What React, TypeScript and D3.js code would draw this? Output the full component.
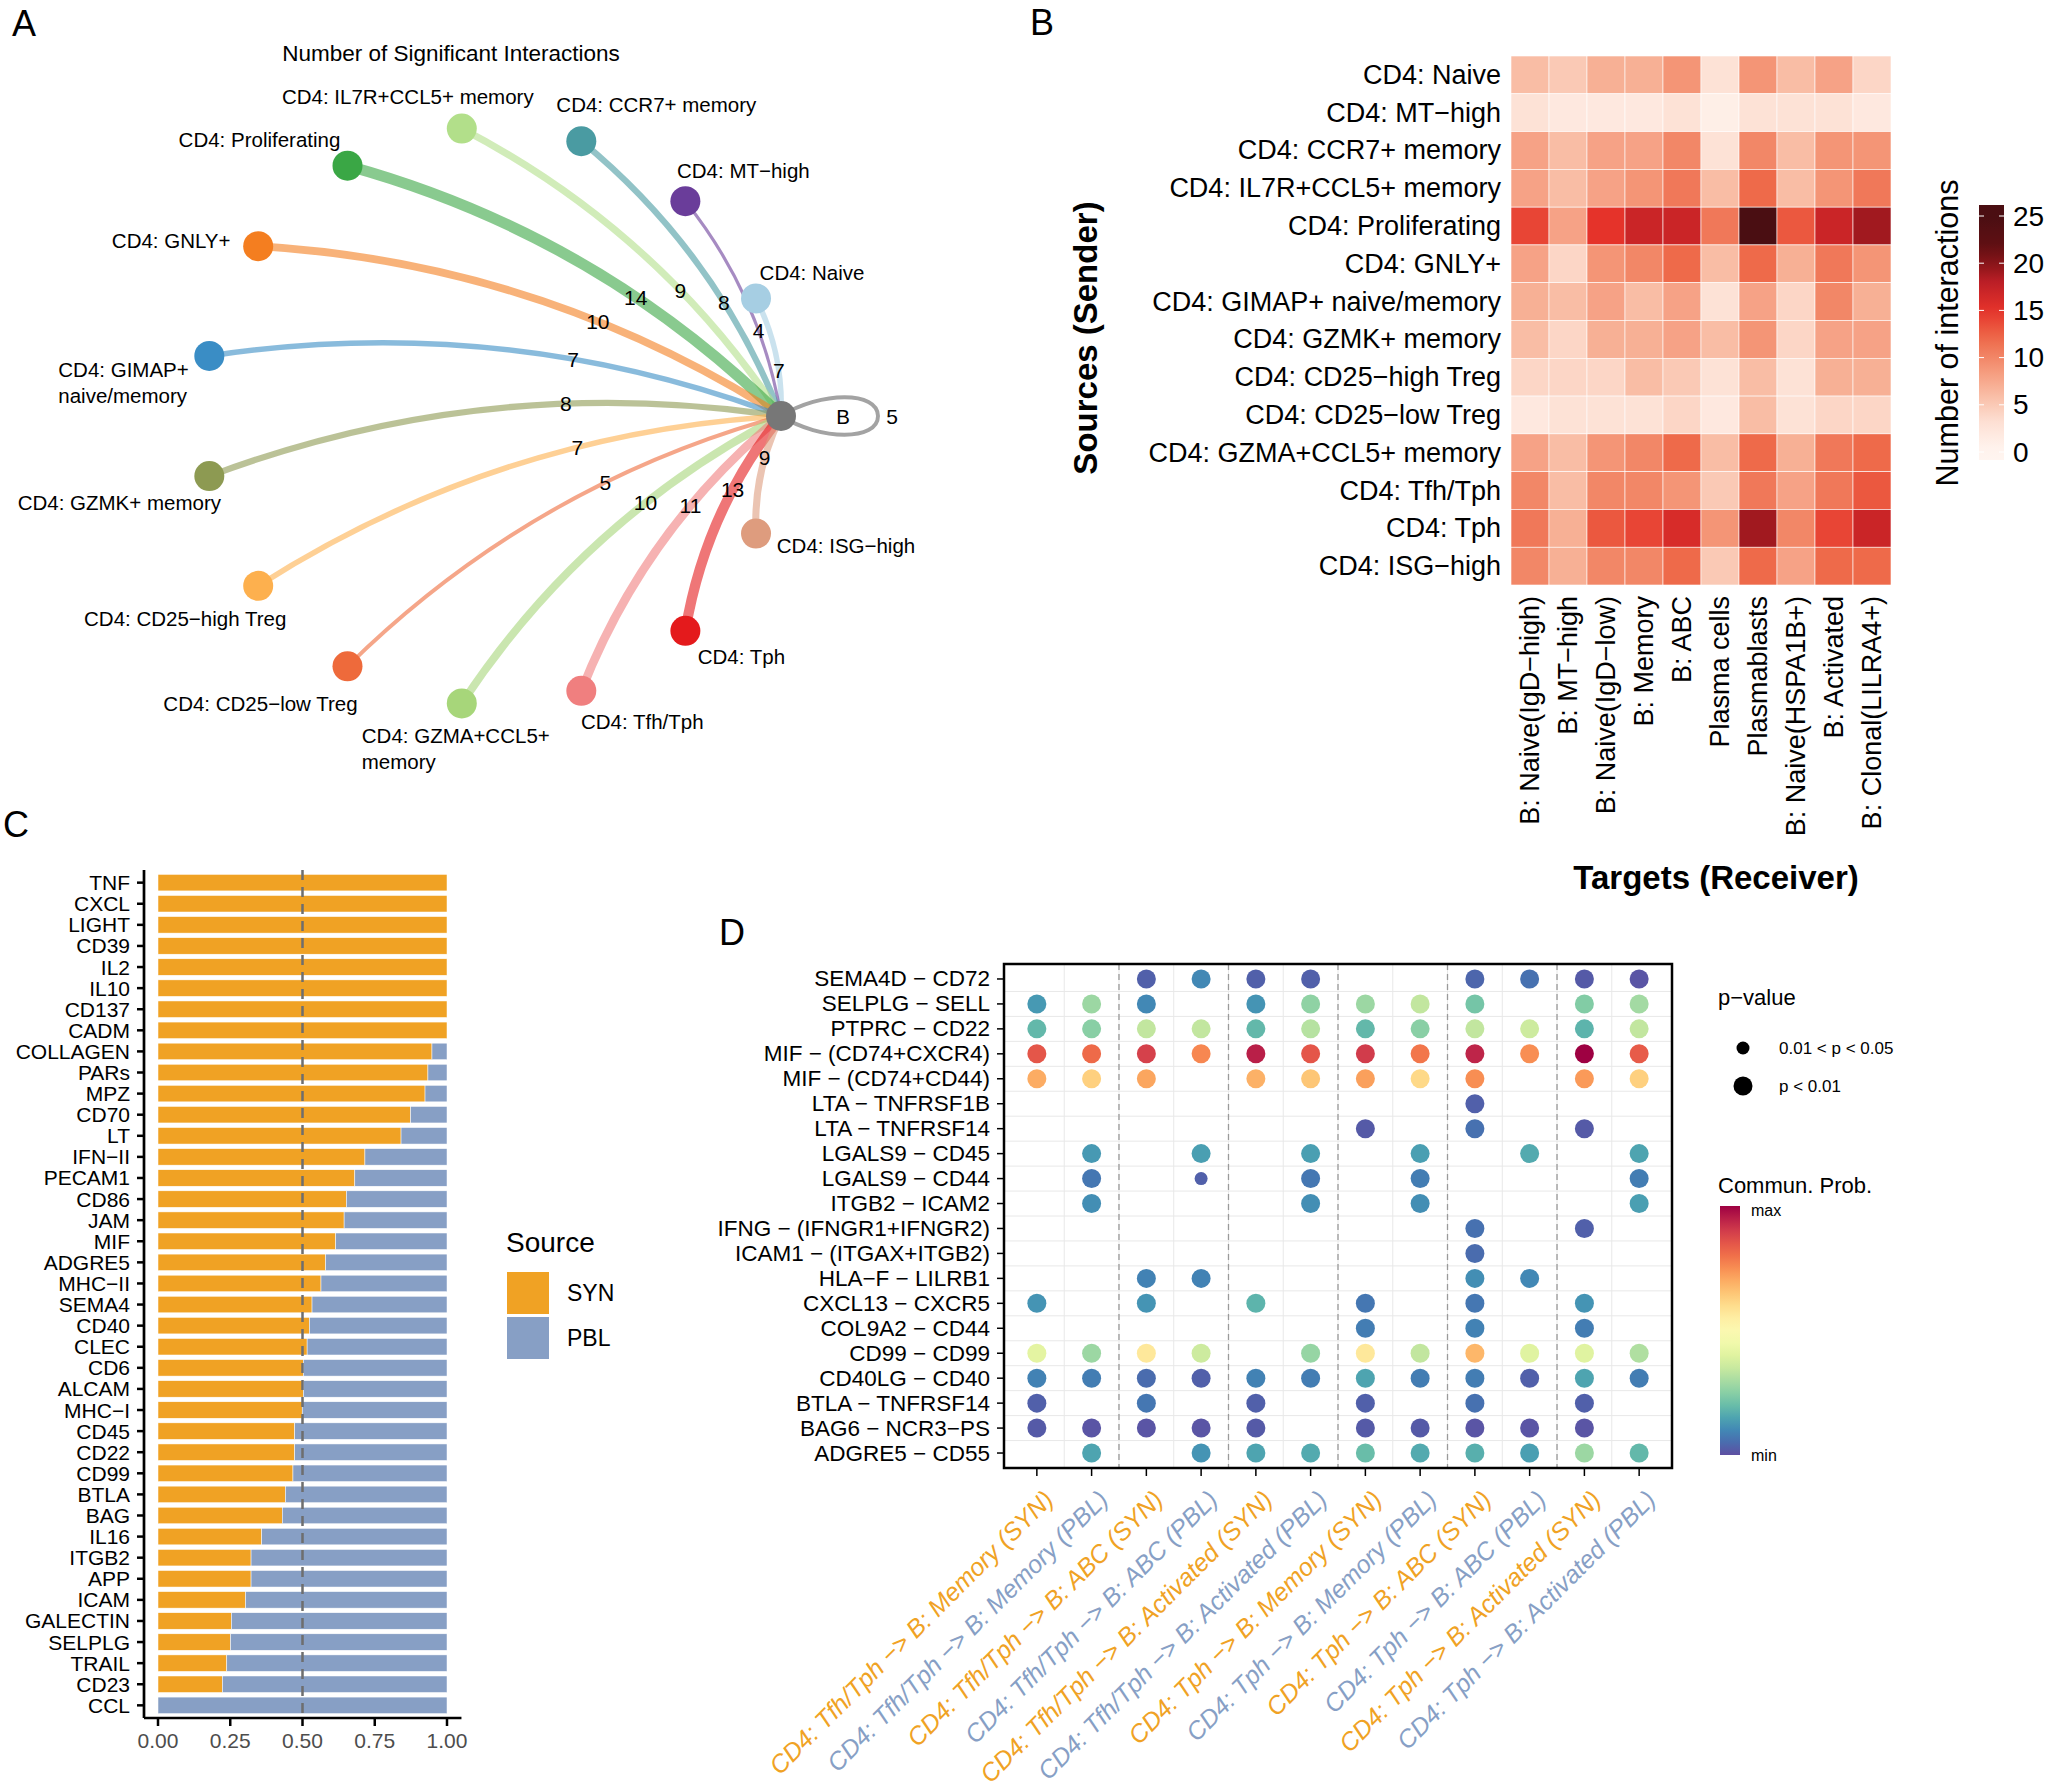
import * as d3 from "d3";

const FONT = '"Liberation Sans", Arial, Helvetica, sans-serif';
const SYN_COLOR = "#F0A224";
const PBL_COLOR = "#879FC5";

// ---------- panel A: circle plot ----------
const circleNodes = [
  "CD4: Naive",
  "CD4: MT−high",
  "CD4: CCR7+ memory",
  "CD4: IL7R+CCL5+ memory",
  "CD4: Proliferating",
  "CD4: GNLY+",
  "CD4: GIMAP+\nnaive/memory",
  "CD4: GZMK+ memory",
  "CD4: CD25−high Treg",
  "CD4: CD25−low Treg",
  "CD4: GZMA+CCL5+\nmemory",
  "CD4: Tfh/Tph",
  "CD4: Tph",
  "CD4: ISG−high",
  "B",
];
const nodeColors = [
  "#A6CEE3", "#6A3D9A", "#4A9BA2", "#B2DF8A", "#3AA745", "#F47E20", "#3A8DC5",
  "#8D9A52", "#FDB04E", "#EE6A3B", "#A7D67A", "#F07F7F", "#E41A1C", "#DE9C7E", "#777777",
];
const interactionsToB = [7, 4, 8, 9, 14, 10, 7, 8, 7, 5, 10, 11, 13, 9];
const selfInteractionsB = 5;

// ---------- panel B: heatmap ----------
const heatRows = [
  "CD4: Naive", "CD4: MT−high", "CD4: CCR7+ memory", "CD4: IL7R+CCL5+ memory",
  "CD4: Proliferating", "CD4: GNLY+", "CD4: GIMAP+ naive/memory", "CD4: GZMK+ memory",
  "CD4: CD25−high Treg", "CD4: CD25−low Treg", "CD4: GZMA+CCL5+ memory", "CD4: Tfh/Tph",
  "CD4: Tph", "CD4: ISG−high",
];
const heatCols = [
  "B: Naive(IgD−high)", "B: MT−high", "B: Naive(IgD−low)", "B: Memory", "B: ABC",
  "Plasma cells", "Plasmablasts", "B: Naive(HSPA1B+)", "B: Activated", "B: Clonal(LILRA4+)",
];
const heatValues = [
  [6, 5, 7, 7, 9, 3, 9, 6, 8, 4],
  [3, 2, 2, 2, 3, 1, 3, 3, 3, 2],
  [8, 6, 8, 8, 10, 3, 10, 6, 9, 9],
  [8, 6, 8, 9, 11, 6, 12, 6, 9, 11],
  [14, 8, 15, 17, 17, 11, 25, 13, 17, 19],
  [8, 4, 9, 10, 12, 6, 12, 7, 11, 9],
  [7, 6, 8, 6, 8, 3, 8, 4, 10, 7],
  [6, 4, 7, 7, 8, 6, 9, 4, 8, 8],
  [4, 4, 4, 6, 5, 3, 6, 3, 7, 7],
  [2, 3, 3, 3, 4, 2, 6, 3, 4, 4],
  [8, 6, 9, 10, 12, 6, 12, 7, 11, 12],
  [10, 6, 10, 10, 9, 5, 11, 8, 11, 13],
  [11, 7, 13, 14, 16, 9, 19, 10, 14, 17],
  [10, 7, 10, 10, 12, 5, 12, 8, 12, 12],
];
const heatTicks = [0, 5, 10, 15, 20, 25];

// ---------- panel C: stacked fraction bars ----------
const pathways = [
  "TNF", "CXCL", "LIGHT", "CD39", "IL2", "IL10", "CD137", "CADM", "COLLAGEN", "PARs",
  "MPZ", "CD70", "LT", "IFN−II", "PECAM1", "CD86", "JAM", "MIF", "ADGRE5", "MHC−II",
  "SEMA4", "CD40", "CLEC", "CD6", "ALCAM", "MHC−I", "CD45", "CD22", "CD99", "BTLA",
  "BAG", "IL16", "ITGB2", "APP", "ICAM", "GALECTIN", "SELPLG", "TRAIL", "CD23", "CCL",
];
const synFraction = [
  1, 1, 1, 1, 1, 1, 1, 1, 0.948, 0.934,
  0.924, 0.874, 0.841, 0.716, 0.681, 0.652, 0.644, 0.615, 0.58, 0.564,
  0.533, 0.524, 0.516, 0.503, 0.503, 0.499, 0.473, 0.473, 0.467, 0.441,
  0.43, 0.359, 0.322, 0.322, 0.303, 0.254, 0.251, 0.238, 0.223, 0,
];
const fractionTicks = [0, 0.25, 0.5, 0.75, 1];
const sourceGroups = ["SYN", "PBL"];

// ---------- panel D: bubble plot ----------
const lrPairs = [
  "SEMA4D − CD72", "SELPLG − SELL", "PTPRC − CD22", "MIF − (CD74+CXCR4)", "MIF − (CD74+CD44)",
  "LTA − TNFRSF1B", "LTA − TNFRSF14", "LGALS9 − CD45", "LGALS9 − CD44", "ITGB2 − ICAM2",
  "IFNG − (IFNGR1+IFNGR2)", "ICAM1 − (ITGAX+ITGB2)", "HLA−F − LILRB1", "CXCL13 − CXCR5",
  "COL9A2 − CD44", "CD99 − CD99", "CD40LG − CD40", "BTLA − TNFRSF14", "BAG6 − NCR3−PS",
  "ADGRE5 − CD55",
];
const pairColumns = [
  "CD4: Tfh/Tph −> B: Memory (SYN)", "CD4: Tfh/Tph −> B: Memory (PBL)",
  "CD4: Tfh/Tph −> B: ABC (SYN)", "CD4: Tfh/Tph −> B: ABC (PBL)",
  "CD4: Tfh/Tph −> B: Activated (SYN)", "CD4: Tfh/Tph −> B: Activated (PBL)",
  "CD4: Tph −> B: Memory (SYN)", "CD4: Tph −> B: Memory (PBL)",
  "CD4: Tph −> B: ABC (SYN)", "CD4: Tph −> B: ABC (PBL)",
  "CD4: Tph −> B: Activated (SYN)", "CD4: Tph −> B: Activated (PBL)",
];
const _ = null;
const commProb: (number | null)[][] = [
  [_, _, 0.03, 0.1, 0.03, 0.03, _, _, 0.04, 0.06, 0.02, 0.01],
  [0.13, 0.28, 0.1, _, 0.12, 0.26, 0.28, 0.34, 0.22, _, 0.24, 0.29],
  [0.19, 0.25, 0.34, 0.34, 0.19, 0.32, 0.19, 0.25, 0.34, 0.36, 0.18, 0.34],
  [0.85, 0.81, 0.89, 0.76, 0.95, 0.85, 0.9, 0.79, 0.94, 0.75, 1.0, 0.84],
  [0.7, 0.63, 0.71, _, 0.69, 0.65, 0.72, 0.61, 0.75, _, 0.73, 0.63],
  [_, _, _, _, _, _, _, _, 0.03, _, _, _],
  [_, _, _, _, _, _, 0.02, _, 0.06, _, 0.02, _],
  [_, 0.13, _, 0.14, _, 0.14, _, 0.14, _, 0.16, _, 0.15],
  [_, 0.07, _, 0.03, _, 0.07, _, 0.08, _, _, _, 0.08],
  [_, 0.11, _, _, _, 0.11, _, 0.11, _, _, _, 0.14],
  [_, _, _, _, _, _, _, _, 0.06, _, 0.03, _],
  [_, _, _, _, _, _, _, _, 0.05, _, _, _],
  [_, _, 0.09, 0.09, _, _, _, _, 0.11, 0.1, _, _],
  [0.12, _, 0.12, _, 0.18, _, 0.07, _, 0.07, _, 0.12, _],
  [_, _, _, _, _, _, 0.08, _, 0.09, _, 0.08, _],
  [0.41, 0.28, 0.57, 0.36, _, 0.27, 0.57, 0.34, 0.68, 0.4, 0.4, 0.31],
  [0.09, 0.08, 0.05, 0.03, 0.09, 0.08, 0.15, 0.08, 0.08, 0.03, 0.15, 0.08],
  [0.03, _, 0.07, _, 0.03, _, 0.03, _, 0.06, _, 0.03, _],
  [0.02, 0.01, 0.01, 0.01, 0.02, _, 0.02, 0.02, 0.01, 0.01, 0.01, _],
  [_, 0.15, _, 0.12, 0.15, 0.16, 0.2, 0.16, 0.17, 0.14, 0.28, 0.19],
];
// cells with 0.01 < p < 0.05 (row, column); all others p < 0.01
const weakPvalueCells = [[8, 3]];
const pvalueLabels = ["0.01 < p < 0.05", "p < 0.01"];

function PanelLetter({ x, y, t }: { x: number; y: number; t: string }) {
  return (
    <text x={x} y={y} fontSize={36}>
      {t}
    </text>
  );
}

function PanelA() {
  const cx = 492, cy = 416, R = 289;
  const n = circleNodes.length;
  const angle = d3.scaleLinear().domain([0, n]).range([0, -2 * Math.PI]);
  const pos = circleNodes.map((_d, i) => {
    const a = angle(i + 1);
    return [cx + R * Math.cos(a), cy + R * Math.sin(a)];
  });
  const [bx, by] = pos[n - 1];
  const edgeWidth = d3.scaleLinear().domain([0, 14]).range([0, 11]);
  // label placement relative to each node
  const labelOffsets = [
    [56, -26], [58, -31], [75, -37], [-54, -32], [-88, -26], [-87, -6], [-151, 13],
    [-90, 26], [-73, 33], [-87, 37], [-100, 32], [61, 31], [56, 26], [90, 12], [62, 0],
  ];

  const edges = interactionsToB.map((v, i) => {
    const [x0, y0] = pos[i];
    const dx = bx - x0, dy = by - y0;
    const L = Math.hypot(dx, dy);
    const k = 0.13 * L;
    const qx = (x0 + bx) / 2 + (dy / L) * k;
    const qy = (y0 + by) / 2 - (dx / L) * k;
    const p = d3.path();
    p.moveTo(x0, y0);
    p.quadraticCurveTo(qx, qy, bx, by);
    const t = 0.63;
    const lx = (1 - t) * (1 - t) * x0 + 2 * t * (1 - t) * qx + t * t * bx;
    const ly = (1 - t) * (1 - t) * y0 + 2 * t * (1 - t) * qy + t * t * by;
    return { d: p.toString(), v, i, lx, ly };
  });

  const loop = d3.path();
  loop.moveTo(bx, by);
  loop.bezierCurveTo(bx + 40, by - 25, bx + 97, by - 25, bx + 97, by);
  loop.bezierCurveTo(bx + 97, by + 25, bx + 40, by + 25, bx, by);

  return (
    <g>
      <PanelLetter x={12} y={36} t="A" />
      <text x={451} y={61} fontSize={22.5} textAnchor="middle">
        Number of Significant Interactions
      </text>
      <path d={loop.toString()} fill="none" stroke="#A3A3A3" strokeWidth={edgeWidth(selfInteractionsB)} />
      {edges.map((e) => (
        <path key={e.i} d={e.d} fill="none" stroke={nodeColors[e.i]} strokeOpacity={0.6}
          strokeWidth={edgeWidth(e.v)} strokeLinecap="butt" />
      ))}
      {edges.map((e) => (
        <text key={"l" + e.i} x={e.lx} y={e.ly} fontSize={21} textAnchor="middle" dominantBaseline="central">
          {e.v}
        </text>
      ))}
      <text x={bx + 111} y={by} fontSize={21} textAnchor="middle" dominantBaseline="central">
        {selfInteractionsB}
      </text>
      {pos.map(([x, y], i) => (
        <circle key={i} cx={x} cy={y} r={15} fill={nodeColors[i]} />
      ))}
      {circleNodes.map((name, i) => {
        const [x, y] = pos[i];
        const [ox, oy] = labelOffsets[i];
        const lines = name.split("\n");
        if (lines.length > 1) {
          return (
            <text key={i} fontSize={20.5} dominantBaseline="central">
              {lines.map((ln, j) => (
                <tspan key={j} x={x + ox} y={y + oy + j * 26}>{ln}</tspan>
              ))}
            </text>
          );
        }
        return (
          <text key={i} x={x + ox} y={y + oy} fontSize={20.5} textAnchor="middle" dominantBaseline="central">
            {name}
          </text>
        );
      })}
    </g>
  );
}

function PanelB() {
  const x = d3.scaleBand().domain(heatCols).range([1511, 1891]);
  const y = d3.scaleBand().domain(heatRows).range([56, 585]);
  const color = d3
    .scaleLinear<string>()
    .domain([0, 3, 6, 9, 12, 15, 18, 20, 22, 25])
    .range(["#FFF5F0", "#FDE2D6", "#F9BDA5", "#F49576", "#EE6A4A", "#E5332A", "#BC1E26", "#861418", "#5F0F13", "#4A0E12"])
    .clamp(true);
  const legendY = d3.scaleLinear().domain([0, 25]).range([452, 216]);
  const barTop = 205, barBottom = 460;
  const stops = d3.range(0, 1.0001, 0.05).map((o) => ({
    o,
    c: color(legendY.invert(barTop + o * (barBottom - barTop))),
  }));
  return (
    <g>
      <PanelLetter x={1030} y={35} t="B" />
      <defs>
        <linearGradient id="heatGrad" x1="0" y1="0" x2="0" y2="1">
          {stops.map((s, i) => (
            <stop key={i} offset={s.o} stopColor={s.c} />
          ))}
        </linearGradient>
      </defs>
      {heatValues.map((row, r) =>
        row.map((v, c) => (
          <rect key={r + "-" + c} x={x(heatCols[c])} y={y(heatRows[r])} width={x.bandwidth()}
            height={y.bandwidth()} fill={color(v)} stroke="#fff" strokeWidth={0.6} />
        ))
      )}
      {heatRows.map((r) => (
        <text key={r} x={1501} y={(y(r) as number) + y.bandwidth() / 2} fontSize={27}
          textAnchor="end" dominantBaseline="central">
          {r}
        </text>
      ))}
      {heatCols.map((c) => (
        <text key={c} transform={`translate(${(x(c) as number) + x.bandwidth() / 2},596) rotate(-90)`}
          fontSize={27} textAnchor="end" dominantBaseline="central">
          {c}
        </text>
      ))}
      <text transform="translate(1085,338) rotate(-90)" fontSize={33} fontWeight="bold"
        textAnchor="middle" dominantBaseline="central">
        Sources (Sender)
      </text>
      <text x={1716} y={889} fontSize={33} fontWeight="bold" textAnchor="middle">
        Targets (Receiver)
      </text>
      <text transform="translate(1947,333) rotate(-90)" fontSize={30.5} textAnchor="middle"
        dominantBaseline="central">
        Number of interactions
      </text>
      <rect x={1979} y={barTop} width={25} height={barBottom - barTop} fill="url(#heatGrad)" />
      {heatTicks.map((t) => (
        <g key={t}>
          <line x1={1979} x2={1984} y1={legendY(t)} y2={legendY(t)} stroke="#fff" strokeWidth={1} />
          <line x1={1999} x2={2004} y1={legendY(t)} y2={legendY(t)} stroke="#fff" strokeWidth={1} />
          <text x={2013} y={legendY(t)} fontSize={28} dominantBaseline="central">
            {t}
          </text>
        </g>
      ))}
    </g>
  );
}

function PanelC() {
  const x = d3.scaleLinear().domain([0, 1]).range([158, 447]);
  const y = d3.scalePoint().domain(pathways).range([870, 1718]).padding(0.6);
  const barH = 16.5;
  const fmt = d3.format(".2f");
  const fill = d3.scaleOrdinal<string>().domain(sourceGroups).range([SYN_COLOR, PBL_COLOR]);
  const axisY = 1718, axisX = 144;
  return (
    <g>
      <PanelLetter x={3} y={837} t="C" />
      {pathways.map((p, i) => {
        const yc = y(p) as number;
        const f = synFraction[i];
        return (
          <g key={p}>
            <rect x={x(0)} y={yc - barH / 2} width={x(f) - x(0)} height={barH} fill={fill("SYN")}
              stroke="#fff" strokeWidth={0.5} />
            <rect x={x(f)} y={yc - barH / 2} width={x(1) - x(f)} height={barH} fill={fill("PBL")}
              stroke="#fff" strokeWidth={0.5} />
            <line x1={axisX - 7} x2={axisX} y1={yc} y2={yc} stroke="#000" strokeWidth={2.5} />
            <text x={130} y={yc} fontSize={21} textAnchor="end" dominantBaseline="central">
              {p}
            </text>
          </g>
        );
      })}
      <line x1={x(0.5)} x2={x(0.5)} y1={870} y2={axisY} stroke="#6E6E6E" strokeWidth={2.5}
        strokeDasharray="10 7" />
      <line x1={axisX} x2={axisX} y1={870} y2={axisY} stroke="#000" strokeWidth={2.7} />
      <line x1={axisX} x2={x(1.05)} y1={axisY} y2={axisY} stroke="#000" strokeWidth={2.7} />
      {fractionTicks.map((t) => (
        <g key={t}>
          <line x1={x(t)} x2={x(t)} y1={axisY} y2={axisY + 8} stroke="#000" strokeWidth={2.5} />
          <text x={x(t)} y={axisY + 22} fontSize={21} fill="#4D4D4D" textAnchor="middle"
            dominantBaseline="central">
            {fmt(t)}
          </text>
        </g>
      ))}
      <text x={506} y={1252} fontSize={28}>
        Source
      </text>
      {sourceGroups.map((g, i) => (
        <g key={g}>
          <rect x={507} y={1272 + i * 45} width={42} height={42} fill={fill(g)} />
          <text x={567} y={1293 + i * 45} fontSize={23} dominantBaseline="central">
            {g}
          </text>
        </g>
      ))}
    </g>
  );
}

function PanelD() {
  const x = d3.scalePoint().domain(pairColumns).range([1004, 1672]).padding(0.6);
  const y = d3.scalePoint().domain(lrPairs).range([964, 1468]).padding(0.6);
  const sx = x.step(), sy = y.step();
  const color = (v: number) => d3.interpolateSpectral(1 - v);
  const isWeak = (r: number, c: number) => weakPvalueCells.some(([a, b]) => a === r && b === c);
  const rBig = 9.5, rSmall = 6.5;
  const gridX = pairColumns.slice(1).map((c) => (x(c) as number) - sx / 2);
  const gridY = lrPairs.slice(1).map((l) => (y(l) as number) - sy / 2);
  const groupX = d3.range(2, pairColumns.length, 2).map((i) => (x(pairColumns[i]) as number) - sx / 2);
  const gradStops = d3.range(0, 1.0001, 0.05);
  return (
    <g>
      <PanelLetter x={719} y={945} t="D" />
      <defs>
        <linearGradient id="probGrad" x1="0" y1="0" x2="0" y2="1">
          {gradStops.map((o, i) => (
            <stop key={i} offset={o} stopColor={color(1 - o)} />
          ))}
        </linearGradient>
      </defs>
      {gridX.map((gx, i) => (
        <line key={"gx" + i} x1={gx} x2={gx} y1={964} y2={1468} stroke="#E8E8E8" strokeWidth={1} />
      ))}
      {gridY.map((gy, i) => (
        <line key={"gy" + i} x1={1004} x2={1672} y1={gy} y2={gy} stroke="#E8E8E8" strokeWidth={1} />
      ))}
      {groupX.map((gx, i) => (
        <line key={"dx" + i} x1={gx} x2={gx} y1={964} y2={1468} stroke="#9A9A9A" strokeWidth={1.3}
          strokeDasharray="6 4" />
      ))}
      {commProb.map((row, r) =>
        row.map((v, c) =>
          v === null ? null : (
            <circle key={r + "-" + c} cx={x(pairColumns[c])} cy={y(lrPairs[r])}
              r={isWeak(r, c) ? rSmall : rBig} fill={color(v)} />
          )
        )
      )}
      <rect x={1004} y={964} width={668} height={504} fill="none" stroke="#000" strokeWidth={2.5} />
      {lrPairs.map((l) => (
        <g key={l}>
          <line x1={997} x2={1004} y1={y(l)} y2={y(l)} stroke="#000" strokeWidth={1.5} />
          <text x={990} y={y(l)} fontSize={22.5} textAnchor="end" dominantBaseline="central">
            {l}
          </text>
        </g>
      ))}
      {pairColumns.map((c) => (
        <g key={c}>
          <line x1={x(c)} x2={x(c)} y1={1468} y2={1476} stroke="#000" strokeWidth={1.5} />
          <text transform={`translate(${(x(c) as number) + 5},1488) rotate(-45)`} fontSize={25}
            fontStyle="italic" textAnchor="end" dominantBaseline="hanging"
            fill={c.includes("(SYN)") ? SYN_COLOR : PBL_COLOR}>
            {c}
          </text>
        </g>
      ))}
      <text x={1718} y={1005} fontSize={22}>
        p−value
      </text>
      {pvalueLabels.map((lab, i) => (
        <g key={lab}>
          <circle cx={1743} cy={1048 + i * 38} r={i === 0 ? rSmall : rBig} fill="#000" />
          <text x={1779} y={1048 + i * 38} fontSize={17} dominantBaseline="central">
            {lab}
          </text>
        </g>
      ))}
      <text x={1718} y={1193} fontSize={22}>
        Commun. Prob.
      </text>
      <rect x={1720} y={1206} width={20} height={249} fill="url(#probGrad)" />
      <text x={1751} y={1210} fontSize={16} dominantBaseline="central">
        max
      </text>
      <text x={1751} y={1455} fontSize={16} dominantBaseline="central">
        min
      </text>
    </g>
  );
}

export default function App() {
  return (
    <svg width={2050} height={1789} fontFamily={FONT}
      style={{ position: "absolute", left: 0, top: 0, background: "#fff", display: "block" }}>
      <rect width={2050} height={1789} fill="#fff" />
      <PanelA />
      <PanelB />
      <PanelC />
      <PanelD />
    </svg>
  );
}
